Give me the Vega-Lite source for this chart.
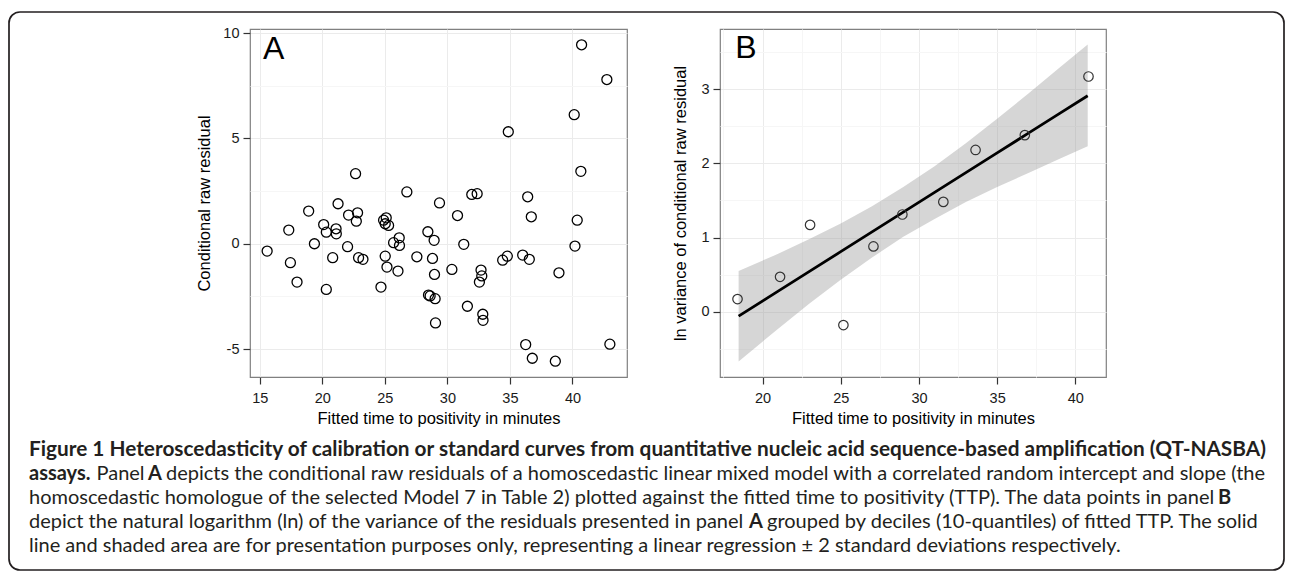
{
  "$schema": "https://vega.github.io/schema/vega-lite/v6.json",
  "background": "white",
  "padding": {"left": 8, "top": 11, "right": 5, "bottom": 5},
  "bounds": "flush",
  "align": "each",
  "columns": 2,
  "spacing": {"row": 60, "column": 93},
  "datasets": {
    "resid": [
      {"fitted": 15.59, "residual": -0.35}, {"fitted": 17.32, "residual": 0.65}, {"fitted": 17.45, "residual": -0.9},
      {"fitted": 17.98, "residual": -1.82}, {"fitted": 18.91, "residual": 1.55}, {"fitted": 19.37, "residual": 0.0},
      {"fitted": 20.11, "residual": 0.91}, {"fitted": 20.32, "residual": 0.55}, {"fitted": 20.32, "residual": -2.17},
      {"fitted": 20.83, "residual": -0.66}, {"fitted": 21.1, "residual": 0.71}, {"fitted": 21.12, "residual": 0.47},
      {"fitted": 21.26, "residual": 1.9}, {"fitted": 22.02, "residual": -0.14}, {"fitted": 22.1, "residual": 1.36},
      {"fitted": 22.82, "residual": 1.47}, {"fitted": 22.72, "residual": 1.07}, {"fitted": 22.66, "residual": 3.33},
      {"fitted": 22.9, "residual": -0.66}, {"fitted": 23.25, "residual": -0.74}, {"fitted": 24.69, "residual": -2.06},
      {"fitted": 24.9, "residual": 1.12}, {"fitted": 25.11, "residual": 1.23}, {"fitted": 25.03, "residual": 0.95},
      {"fitted": 25.3, "residual": 0.87}, {"fitted": 25.03, "residual": -0.59}, {"fitted": 25.17, "residual": -1.11},
      {"fitted": 25.7, "residual": 0.05}, {"fitted": 26.15, "residual": 0.28}, {"fitted": 26.17, "residual": -0.08},
      {"fitted": 26.05, "residual": -1.3}, {"fitted": 26.76, "residual": 2.46}, {"fitted": 27.56, "residual": -0.62},
      {"fitted": 28.44, "residual": 0.57}, {"fitted": 28.94, "residual": 0.16}, {"fitted": 28.81, "residual": -0.7},
      {"fitted": 28.97, "residual": -1.46}, {"fitted": 28.49, "residual": -2.44}, {"fitted": 28.62, "residual": -2.48},
      {"fitted": 29.02, "residual": -2.61}, {"fitted": 29.05, "residual": -3.76}, {"fitted": 29.37, "residual": 1.94},
      {"fitted": 30.36, "residual": -1.22}, {"fitted": 30.81, "residual": 1.34}, {"fitted": 31.31, "residual": -0.03},
      {"fitted": 31.6, "residual": -2.97}, {"fitted": 31.95, "residual": 2.34}, {"fitted": 32.38, "residual": 2.38},
      {"fitted": 32.69, "residual": -1.25}, {"fitted": 32.75, "residual": -1.53}, {"fitted": 32.56, "residual": -1.82},
      {"fitted": 32.83, "residual": -3.35}, {"fitted": 32.85, "residual": -3.64}, {"fitted": 34.42, "residual": -0.78},
      {"fitted": 34.79, "residual": -0.59}, {"fitted": 34.87, "residual": 5.32}, {"fitted": 36.02, "residual": -0.54},
      {"fitted": 36.42, "residual": 2.23}, {"fitted": 36.55, "residual": -0.74}, {"fitted": 36.71, "residual": 1.28},
      {"fitted": 36.26, "residual": -4.79}, {"fitted": 36.79, "residual": -5.44}, {"fitted": 38.63, "residual": -5.58},
      {"fitted": 38.92, "residual": -1.38}, {"fitted": 40.2, "residual": -0.11}, {"fitted": 40.38, "residual": 1.12},
      {"fitted": 40.14, "residual": 6.13}, {"fitted": 40.67, "residual": 3.44}, {"fitted": 40.73, "residual": 9.45},
      {"fitted": 42.75, "residual": 7.8}, {"fitted": 42.99, "residual": -4.77}
    ],
    "deciles": [
      {"fitted": 18.4, "lnvar": 0.17}, {"fitted": 21.12, "lnvar": 0.47}, {"fitted": 23.04, "lnvar": 1.17},
      {"fitted": 25.17, "lnvar": -0.18}, {"fitted": 27.09, "lnvar": 0.88}, {"fitted": 28.94, "lnvar": 1.31},
      {"fitted": 31.56, "lnvar": 1.48}, {"fitted": 33.62, "lnvar": 2.18}, {"fitted": 36.77, "lnvar": 2.38},
      {"fitted": 40.84, "lnvar": 3.17}
    ],
    "smooth": [
      {"fitted": 18.47, "fit": -0.06, "lo": -0.67, "hi": 0.55},
      {"fitted": 21, "fit": 0.277, "lo": -0.23, "hi": 0.78},
      {"fitted": 23, "fit": 0.543, "lo": 0.11, "hi": 0.98},
      {"fitted": 25, "fit": 0.809, "lo": 0.43, "hi": 1.19},
      {"fitted": 27, "fit": 1.075, "lo": 0.73, "hi": 1.42},
      {"fitted": 29, "fit": 1.342, "lo": 1.01, "hi": 1.68},
      {"fitted": 31, "fit": 1.608, "lo": 1.25, "hi": 1.96},
      {"fitted": 33, "fit": 1.874, "lo": 1.48, "hi": 2.27},
      {"fitted": 35, "fit": 2.14, "lo": 1.68, "hi": 2.6},
      {"fitted": 37, "fit": 2.406, "lo": 1.87, "hi": 2.94},
      {"fitted": 39, "fit": 2.672, "lo": 2.06, "hi": 3.29},
      {"fitted": 40.79, "fit": 2.91, "lo": 2.23, "hi": 3.6}
    ],
    "caption": [
      {"line": 1, "part": "t", "text": "Figure 1 Heteroscedasticity of calibration or standard curves from quantitative nucleic acid sequence-based amplification (QT-NASBA)"},
      {"line": 2, "part": "b0", "text": "assays."},
      {"line": 2, "part": "r1", "text": "Panel"},
      {"line": 2, "part": "b2", "text": "A"},
      {"line": 2, "part": "r3", "text": "depicts the conditional raw residuals of a homoscedastic linear mixed model with a correlated random intercept and slope (the"},
      {"line": 3, "part": "r0", "text": "homoscedastic homologue of the selected Model 7 in Table 2) plotted against the fitted time to positivity (TTP). The data points in panel"},
      {"line": 3, "part": "b4", "text": "B"},
      {"line": 4, "part": "r0", "text": "depict the natural logarithm (ln) of the variance of the residuals presented in panel"},
      {"line": 4, "part": "b5", "text": "A"},
      {"line": 4, "part": "r6", "text": "grouped by deciles (10-quantiles) of fitted TTP. The solid"},
      {"line": 5, "part": "r0", "text": "line and shaded area are for presentation purposes only, representing a linear regression ± 2 standard deviations respectively."}
    ]
  },
  "concat": [
    {
      "width": 377,
      "height": 348,
      "layer": [
        {
          "data": {"name": "resid"},
          "mark": {"type": "point", "shape": "circle", "filled": false, "stroke": "#000000", "strokeWidth": 1.3, "size": 100, "opacity": 1},
          "encoding": {
            "x": {
              "field": "fitted", "type": "quantitative",
              "scale": {"domain": [14.22, 44.36], "nice": false, "zero": false},
              "axis": {
                "title": "Fitted time to positivity in minutes",
                "values": [15, 17.5, 20, 22.5, 25, 27.5, 30, 32.5, 35, 37.5, 40, 42.5],
                "labelExpr": "datum.value % 5 == 0 ? format(datum.value, 'd') : ''",
                "tickOpacity": {"condition": {"test": "datum.value % 5 != 0", "value": 0}, "value": 1},
                "gridColor": {"condition": {"test": "datum.value % 5 != 0", "value": "#f6f6f6"}, "value": "#ebebeb"},
                "labelPadding": 7,
                "titlePadding": 6
              }
            },
            "y": {
              "field": "residual", "type": "quantitative",
              "scale": {"domain": [-6.33, 10.2], "nice": false, "zero": false},
              "axis": {
                "title": "Conditional raw residual",
                "values": [-5, -2.5, 0, 2.5, 5, 7.5, 10],
                "labelExpr": "datum.value % 5 == 0 ? replace(format(datum.value, 'd'), '\u2212', '-') : ''",
                "tickOpacity": {"condition": {"test": "datum.value % 5 != 0", "value": 0}, "value": 1},
                "gridColor": {"condition": {"test": "datum.value % 5 != 0", "value": "#f6f6f6"}, "value": "#ebebeb"},
                "labelPadding": 4,
                "titlePadding": 10
              }
            }
          }
        },
        {
          "data": {"values": [{"panel": "A"}]},
          "mark": {"type": "text", "align": "left", "baseline": "top", "fontSize": 32, "font": "Liberation Sans", "color": "#000000"},
          "encoding": {
            "text": {"field": "panel"},
            "x": {"datum": 15.25},
            "y": {"datum": 9.95}
          }
        }
      ]
    },
    {
      "width": 386,
      "height": 348,
      "layer": [
        {
          "data": {"name": "smooth"},
          "mark": {"type": "area", "color": "#999999", "opacity": 0.4},
          "encoding": {
            "x": {
              "field": "fitted", "type": "quantitative",
              "scale": {"domain": [17.28, 41.96], "nice": false, "zero": false},
              "axis": {
                "title": "Fitted time to positivity in minutes",
                "values": [17.5, 20, 22.5, 25, 27.5, 30, 32.5, 35, 37.5, 40],
                "labelExpr": "datum.value % 5 == 0 ? format(datum.value, 'd') : ''",
                "tickOpacity": {"condition": {"test": "datum.value % 5 != 0", "value": 0}, "value": 1},
                "gridColor": {"condition": {"test": "datum.value % 5 != 0", "value": "#f6f6f6"}, "value": "#ebebeb"},
                "labelPadding": 7,
                "titlePadding": 6
              }
            },
            "y": {
              "field": "lo", "type": "quantitative",
              "scale": {"domain": [-0.88, 3.81], "nice": false, "zero": false},
              "axis": {
                "title": "ln variance of conditional raw residual",
                "values": [-0.5, 0, 0.5, 1, 1.5, 2, 2.5, 3, 3.5],
                "labelExpr": "datum.value % 1 == 0 ? format(datum.value, 'd') : ''",
                "tickOpacity": {"condition": {"test": "datum.value % 1 != 0", "value": 0}, "value": 1},
                "gridColor": {"condition": {"test": "datum.value % 1 != 0", "value": "#f6f6f6"}, "value": "#ebebeb"},
                "labelPadding": 4,
                "titlePadding": 12
              }
            },
            "y2": {"field": "hi"}
          }
        },
        {
          "data": {"name": "smooth"},
          "mark": {"type": "line", "color": "#000000", "strokeWidth": 2.8},
          "encoding": {
            "x": {"field": "fitted", "type": "quantitative"},
            "y": {"field": "fit", "type": "quantitative"}
          }
        },
        {
          "data": {"name": "deciles"},
          "mark": {"type": "point", "shape": "circle", "filled": false, "stroke": "#333333", "strokeWidth": 1.2, "size": 90, "opacity": 1},
          "encoding": {
            "x": {"field": "fitted", "type": "quantitative"},
            "y": {"field": "lnvar", "type": "quantitative"}
          }
        },
        {
          "data": {"values": [{"panel": "B"}]},
          "mark": {"type": "text", "align": "left", "baseline": "top", "fontSize": 32, "font": "Liberation Sans", "color": "#000000"},
          "encoding": {
            "text": {"field": "panel"},
            "x": {"datum": 18.25},
            "y": {"datum": 3.76}
          }
        }
      ]
    },
    {
      "width": 377,
      "height": 133,
      "view": {"stroke": null},
      "data": {"name": "caption"},
      "encoding": {
        "y": {"field": "line", "type": "quantitative", "scale": {"domain": [1, 5], "range": [13, 109]}, "axis": null},
        "x": {"value": -221},
        "text": {"field": "text"}
      },
      "layer": [
        {
          "data": {"values": [{"frame": "figure"}]},
          "mark": {"type": "rect", "fill": "white", "fillOpacity": 0, "stroke": "#231f20", "strokeWidth": 1.7, "cornerRadius": 11},
          "encoding": {
            "x": {"value": -241},
            "x2": {"value": 1034},
            "y": {"value": -425},
            "y2": {"value": 133},
            "text": null
          }
        },
        {"transform": [{"filter": "datum.part == 't'"}], "mark": {"type": "text", "align": "left", "baseline": "middle", "font": "Lato", "fontSize": 20.8, "fontWeight": "bold", "color": "#231f20"}},
        {"transform": [{"filter": "datum.part == 'b0'"}], "mark": {"type": "text", "align": "left", "baseline": "middle", "font": "Lato", "fontSize": 20, "fontWeight": "bold", "color": "#231f20"}},
        {"transform": [{"filter": "datum.part == 'r0'"}], "mark": {"type": "text", "align": "left", "baseline": "middle", "font": "Lato", "fontSize": 20, "color": "#231f20"}},
        {"transform": [{"filter": "datum.part == 'r1'"}], "mark": {"type": "text", "align": "left", "baseline": "middle", "font": "Lato", "fontSize": 20, "color": "#231f20", "dx": 67.5}},
        {"transform": [{"filter": "datum.part == 'b2'"}], "mark": {"type": "text", "align": "left", "baseline": "middle", "font": "Lato", "fontSize": 20, "fontWeight": "bold", "color": "#231f20", "dx": 119}},
        {"transform": [{"filter": "datum.part == 'r3'"}], "mark": {"type": "text", "align": "left", "baseline": "middle", "font": "Lato", "fontSize": 20, "color": "#231f20", "dx": 137}},
        {"transform": [{"filter": "datum.part == 'b4'"}], "mark": {"type": "text", "align": "left", "baseline": "middle", "font": "Lato", "fontSize": 20, "fontWeight": "bold", "color": "#231f20", "dx": 1189}},
        {"transform": [{"filter": "datum.part == 'b5'"}], "mark": {"type": "text", "align": "left", "baseline": "middle", "font": "Lato", "fontSize": 20, "fontWeight": "bold", "color": "#231f20", "dx": 720}},
        {"transform": [{"filter": "datum.part == 'r6'"}], "mark": {"type": "text", "align": "left", "baseline": "middle", "font": "Lato", "fontSize": 20, "color": "#231f20", "dx": 738}}
      ]
    }
  ],
  "config": {
    "font": "Liberation Sans",
    "view": {"stroke": "#808080", "strokeWidth": 1.2},
    "axis": {
      "labelFont": "Liberation Sans",
      "labelFontSize": 14.5,
      "labelColor": "#1a1a1a",
      "titleFont": "Liberation Sans",
      "titleFontSize": 16.5,
      "titleFontWeight": "normal",
      "titleColor": "#000000",
      "tickSize": 7,
      "tickWidth": 1.2,
      "tickColor": "#333333",
      "domain": false,
      "gridWidth": 1
    }
  }
}
